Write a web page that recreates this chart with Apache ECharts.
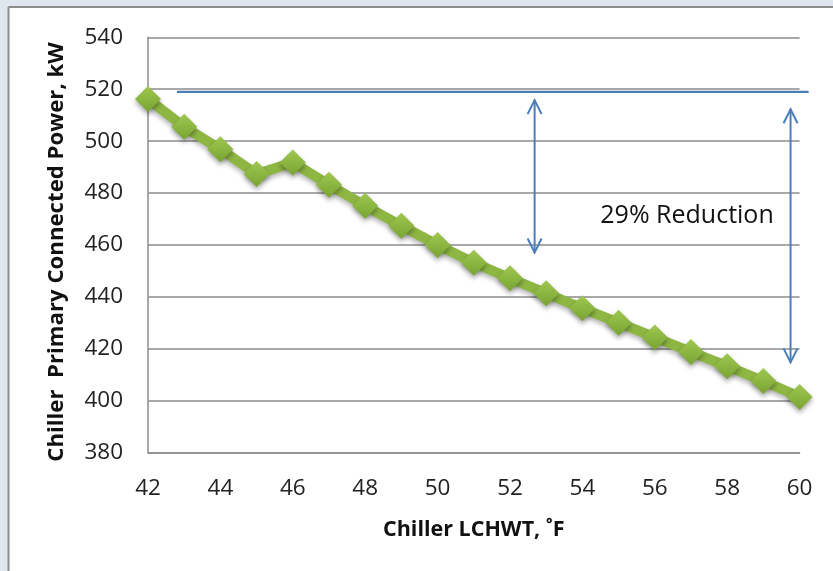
<!DOCTYPE html>
<html>
<head>
<meta charset="utf-8">
<script src="https://cdn.jsdelivr.net/npm/echarts@6/dist/echarts.min.js"></script>
<style>
html,body{margin:0;padding:0;background:#fff;}
#chart{width:833px;height:571px;}
</style>
</head>
<body>
<div id="chart"></div>
<script>
// Data
const lchwt = [42,43,44,45,46,47,48,49,50,51,52,53,54,55,56,57,58,59,60];
const power = [516.2,505.5,496.9,487.3,491.8,483.2,475.1,467.4,460.0,453.2,447.2,441.4,435.6,430.1,424.4,418.8,413.3,407.6,401.5];
const xTicks = [42,44,46,48,50,52,54,56,58,60];
const yTicks = [380,400,420,440,460,480,500,520,540];

// Annotations (data coordinates)
const refLine = [[42.8, 519], [60.25, 519]];
const arrows = [[52.68, 515.8, 457.1], [59.75, 512.3, 414.8]];
const noteText = '29% Reduction';
const notePos = [56.89, 471.4];

const chart = echarts.init(document.getElementById('chart'));
const FONT = 'Open Sans';
const blue = '#4a7ebb';

function renderAnn(params, api) {
  const children = [];
  const a = api.coord(refLine[0]);
  const b = api.coord(refLine[1]);
  children.push({type:'line', shape:{x1:a[0],y1:a[1],x2:b[0],y2:b[1]}, style:{stroke:blue, lineWidth:2.2}});
  arrows.forEach(ar => {
    const t = api.coord([ar[0], ar[1]]);
    const btm = api.coord([ar[0], ar[2]]);
    const s = 7, h = 14;
    children.push({type:'line', shape:{x1:t[0],y1:t[1],x2:btm[0],y2:btm[1]}, style:{stroke:blue, lineWidth:2}});
    children.push({type:'polyline', shape:{points:[[t[0]-s,t[1]+h],[t[0],t[1]],[t[0]+s,t[1]+h]]}, style:{stroke:blue, lineWidth:2, fill:null}});
    children.push({type:'polyline', shape:{points:[[btm[0]-s,btm[1]-h],[btm[0],btm[1]],[btm[0]+s,btm[1]-h]]}, style:{stroke:blue, lineWidth:2, fill:null}});
  });
  const p = api.coord(notePos);
  children.push({type:'text', style:{text:noteText, x:p[0], y:p[1], align:'center', verticalAlign:'middle', font:'25px "' + FONT + '"', fill:'#111'}});
  return {type:'group', children: children};
}

chart.setOption({
  backgroundColor: '#ffffff',
  animation: false,
  graphic: [
    {type:'rect', shape:{x:0,y:0,width:833,height:7}, style:{fill:'#dfe6ee'}, z:-10},
    {type:'rect', shape:{x:0,y:0,width:8,height:571}, style:{fill:'#dfe6ee'}, z:-10},
    {type:'line', shape:{x1:8.5,y1:7,x2:833,y2:7}, style:{stroke:'#8c8c8c', lineWidth:2}, z:-9},
    {type:'line', shape:{x1:8.5,y1:7,x2:8.5,y2:571}, style:{stroke:'#8c8c8c', lineWidth:2}, z:-9}
  ],
  grid: {left:148, right:33.4, top:37.3, bottom:118.3, containLabel:false},
  xAxis: {
    type:'value', min:42, max:60, interval:2,
    name:'Chiller LCHWT, ˚F', nameLocation:'middle', nameGap:66,
    nameTextStyle:{fontFamily:FONT, fontSize:21.5, fontWeight:'bold', color:'#111'},
    axisLine:{show:true, lineStyle:{color:'#8c8c8c', width:1.5}},
    axisTick:{show:false},
    splitLine:{show:false},
    axisLabel:{margin:24, fontFamily:FONT, fontSize:22.5, color:'#222'}
  },
  yAxis: {
    type:'value', min:380, max:540, interval:20,
    name:'Chiller  Primary Connected Power, kW', nameLocation:'middle', nameGap:80, nameRotate:90,
    nameTextStyle:{fontFamily:FONT, fontSize:22.2, fontWeight:'bold', color:'#111', padding:[0,14,0,0]},
    axisLine:{show:true, lineStyle:{color:'#8c8c8c', width:1.5}},
    axisTick:{show:false},
    splitLine:{show:true, lineStyle:{color:'#8c8c8c', width:1.5}},
    axisLabel:{margin:25, fontFamily:FONT, fontSize:22.5, color:'#222'}
  },
  series: [
    {
      type:'line',
      data: lchwt.map((x,i) => [x, power[i]]),
      symbol:'diamond', symbolSize:26,
      lineStyle:{color:'#8db642', width:10, shadowColor:'rgba(0,0,0,0.3)', shadowBlur:5, shadowOffsetY:3},
      itemStyle:{
        color: new echarts.graphic.LinearGradient(0,0,0,1,[{offset:0,color:'#9ec84f'},{offset:1,color:'#79a433'}]),
        shadowColor:'rgba(0,0,0,0.35)', shadowBlur:5, shadowOffsetY:3
      },
      z:3
    },
    {
      type:'custom',
      data:[[0]],
      renderItem: renderAnn,
      silent:true,
      z:4
    }
  ]
});
</script>
</body>
</html>
